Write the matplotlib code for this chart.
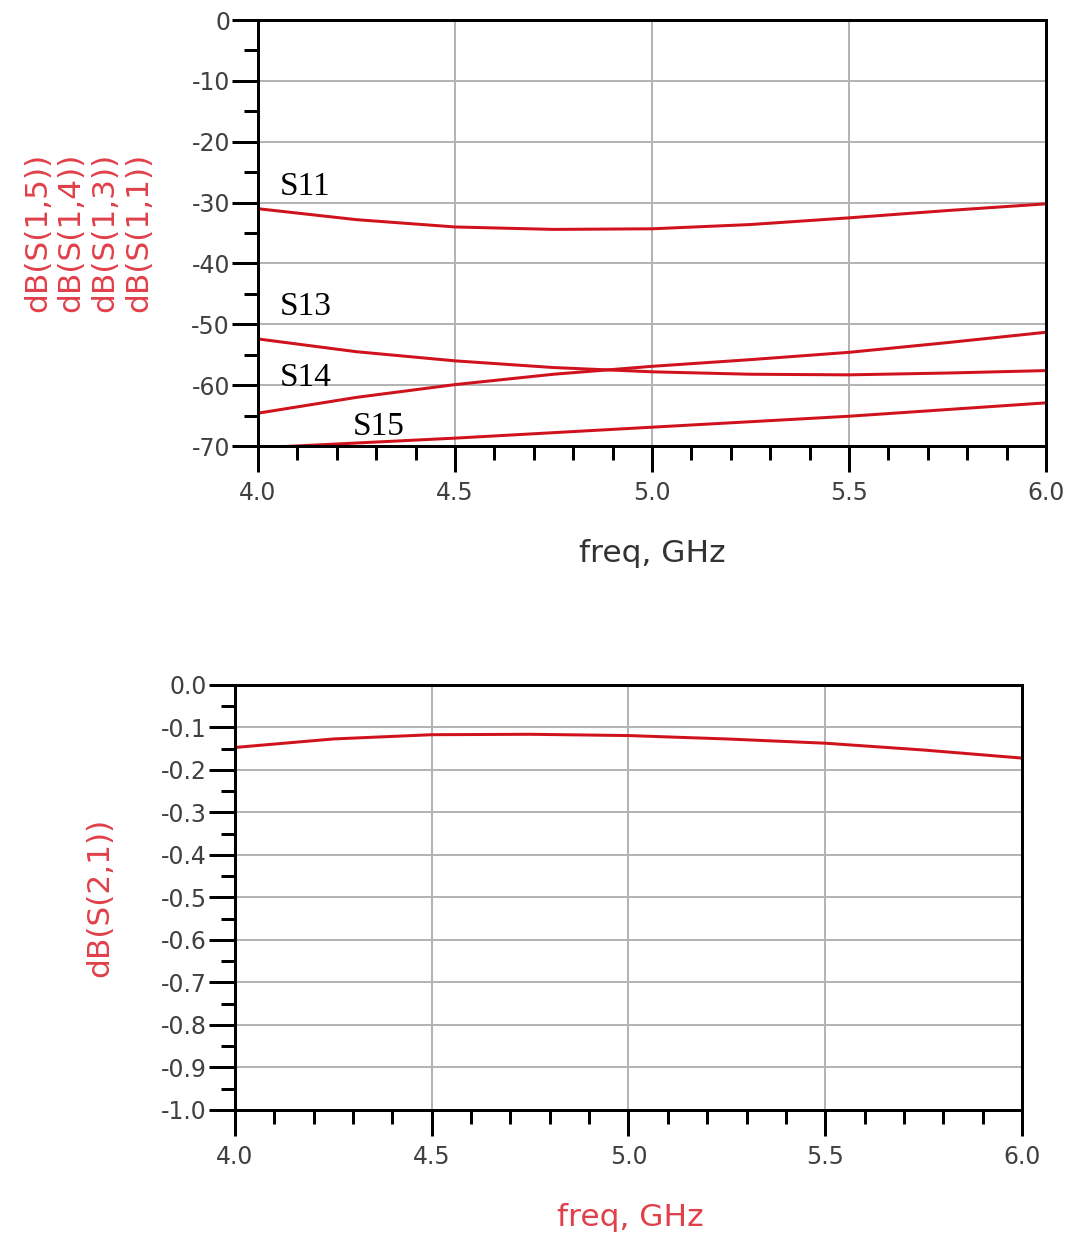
import matplotlib
matplotlib.use("Agg")
import matplotlib.pyplot as plt
from matplotlib.ticker import MultipleLocator, FormatStrFormatter

plt.rcParams['axes.unicode_minus'] = False
plt.rcParams['font.family'] = 'DejaVu Sans'

# frequency points (GHz)
freq = [4.0, 4.25, 4.5, 4.75, 5.0, 5.25, 5.5, 5.75, 6.0]

# top chart, dB values
s11 = [-31.0, -32.8, -34.0, -34.4, -34.3, -33.6, -32.5, -31.3, -30.2]
s13 = [-52.4, -54.5, -56.0, -57.1, -57.8, -58.2, -58.3, -58.0, -57.6]
s14 = [-64.6, -62.0, -59.9, -58.2, -56.9, -55.8, -54.6, -53.0, -51.3]
s15 = [-70.3, -69.5, -68.7, -67.8, -66.9, -66.0, -65.1, -64.0, -62.9]

# bottom chart
s21 = [-0.147, -0.127, -0.117, -0.116, -0.119, -0.127, -0.137, -0.153, -0.172]

curve_names = ["S11", "S13", "S14", "S15"]
name_pos = [(4.056, -28.7), (4.056, -48.4), (4.056, -60.2), (4.24, -68.2)]

line_red = '#d0121c'
label_red = '#e0404a'
tick_grey = '#404040'

PX = 72 / 100  # points per pixel at dpi 100


def style_axes(ax):
    ax.set_axisbelow(True)
    ax.grid(which='major', color='#b4b4b4', lw=2 * PX)
    for sp in ax.spines.values():
        sp.set_color('black')
        sp.set_linewidth(3 * PX)
    ax.tick_params(which='major', direction='out', length=26 * PX,
                   width=3 * PX, color='black', labelsize=17,
                   labelcolor=tick_grey, pad=2 * PX)
    ax.tick_params(which='minor', direction='out', length=14 * PX,
                   width=3 * PX, color='black')
    ax.tick_params(axis='x', which='major', pad=9 * PX)
    ax.set_xlim(4.0, 6.0)
    ax.xaxis.set_major_locator(MultipleLocator(0.5))
    ax.xaxis.set_minor_locator(MultipleLocator(0.1))
    ax.xaxis.set_major_formatter(FormatStrFormatter('%.1f'))


fig = plt.figure(figsize=(10.71, 12.38), dpi=100)

# ---- top chart ----
ax1 = fig.add_axes([0.2409, 0.6397, 0.7358, 0.3441])
style_axes(ax1)
for s in [s11, s13, s14, s15]:
    ax1.plot(freq, s, color=line_red, lw=3 * PX)
ax1.set_ylim(-70, 0)
ax1.yaxis.set_major_locator(MultipleLocator(10))
ax1.yaxis.set_minor_locator(MultipleLocator(5))
ax1.yaxis.set_major_formatter(FormatStrFormatter('%d'))
for name, (x, y) in zip(curve_names, name_pos):
    ax1.text(x, y, name, family='Liberation Serif', fontsize=24,
             color='black', va='baseline', ha='left')

fig.text(652 / 1071, 1 - 553 / 1238, "freq, GHz", fontsize=22.5,
         color='#333333', ha='center', va='center')
fig.text(88 / 1071, 1 - 232 / 1238,
         "dB(S(1,5))\ndB(S(1,4))\ndB(S(1,3))\ndB(S(1,1))",
         rotation=90, ha='center', va='center', fontsize=22.5,
         color=label_red, linespacing=1.2)

# ---- bottom chart ----
ax2 = fig.add_axes([0.2194, 0.1034, 0.7348, 0.3433])
style_axes(ax2)
ax2.plot(freq, s21, color=line_red, lw=3 * PX)
ax2.set_ylim(-1.0, 0.0)
ax2.yaxis.set_major_locator(MultipleLocator(0.1))
ax2.yaxis.set_minor_locator(MultipleLocator(0.05))
ax2.yaxis.set_major_formatter(FormatStrFormatter('%.1f'))
fig.text(630 / 1071, 1 - 1218 / 1238, "freq, GHz", fontsize=22.5,
         color=label_red, ha='center', va='center')
fig.text(100 / 1071, 1 - 897 / 1238, "dB(S(2,1))", rotation=90,
         ha='center', va='center', fontsize=22.5, color=label_red)

fig.savefig("out.png", dpi=100)
